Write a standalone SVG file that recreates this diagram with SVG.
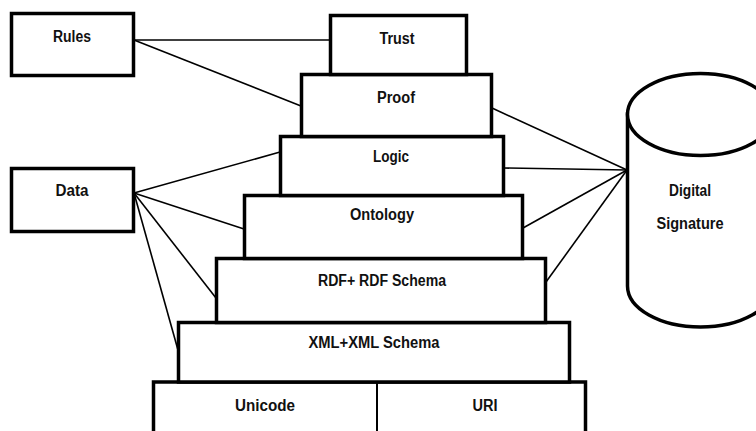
<svg xmlns="http://www.w3.org/2000/svg" width="756" height="431" viewBox="0 0 756 431">
  <style>
    .box { fill: #ffffff; stroke: #000000; stroke-width: 3.5; }
    .link { stroke: #000000; stroke-width: 1.6; fill: none; }
    .lbl { font-family: "Liberation Sans", Arial, sans-serif; font-weight: bold; font-size: 16px; fill: #111111; text-anchor: middle; }
  </style>
  <rect width="756" height="431" fill="#ffffff"/>

  <!-- connectors -->
  <g id="connectors">
    <line class="link" x1="134" y1="40" x2="330" y2="40"/>
    <line class="link" x1="134" y1="40" x2="301" y2="106"/>
    <line class="link" x1="134" y1="193" x2="280" y2="152"/>
    <line class="link" x1="134" y1="193" x2="244" y2="229"/>
    <line class="link" x1="134" y1="193" x2="216" y2="298"/>
    <line class="link" x1="134" y1="193" x2="178" y2="350"/>
    <line class="link" x1="627" y1="170" x2="492" y2="108"/>
    <line class="link" x1="627" y1="170" x2="504" y2="168"/>
    <line class="link" x1="627" y1="170" x2="523" y2="228"/>
    <line class="link" x1="627" y1="170" x2="546" y2="282"/>
  </g>

  <!-- side boxes -->
  <g id="rules">
    <rect class="box" x="11.5" y="13.5" width="122" height="62"/>
    <text class="lbl" x="72" y="42" textLength="38" lengthAdjust="spacingAndGlyphs">Rules</text>
  </g>
  <g id="data">
    <rect class="box" x="11.5" y="168.5" width="122" height="63"/>
    <text class="lbl" x="72" y="196" textLength="33" lengthAdjust="spacingAndGlyphs">Data</text>
  </g>

  <!-- layer stack, bottom to top -->
  <g id="unicode-uri">
    <rect class="box" x="153.5" y="382" width="432" height="70"/>
    <line class="box" x1="377" y1="382" x2="377" y2="440" style="stroke-width:2"/>
    <text class="lbl" x="265" y="411" textLength="60" lengthAdjust="spacingAndGlyphs">Unicode</text>
    <text class="lbl" x="485" y="411" textLength="25" lengthAdjust="spacingAndGlyphs">URI</text>
  </g>
  <g id="xml">
    <rect class="box" x="178.5" y="322.5" width="391" height="59.5"/>
    <text class="lbl" x="374" y="348" textLength="131" lengthAdjust="spacingAndGlyphs">XML+XML Schema</text>
  </g>
  <g id="rdf">
    <rect class="box" x="216.5" y="258.5" width="329" height="64"/>
    <text class="lbl" x="382" y="286" textLength="128" lengthAdjust="spacingAndGlyphs">RDF+ RDF Schema</text>
  </g>
  <g id="ontology">
    <rect class="box" x="244.5" y="195.5" width="278" height="63"/>
    <text class="lbl" x="382" y="220" textLength="64" lengthAdjust="spacingAndGlyphs">Ontology</text>
  </g>
  <g id="logic">
    <rect class="box" x="280.5" y="136.5" width="223" height="59"/>
    <text class="lbl" x="391" y="162" textLength="36" lengthAdjust="spacingAndGlyphs">Logic</text>
  </g>
  <g id="proof">
    <rect class="box" x="301.5" y="74.5" width="190" height="62"/>
    <text class="lbl" x="396" y="103" textLength="38" lengthAdjust="spacingAndGlyphs">Proof</text>
  </g>
  <g id="trust">
    <rect class="box" x="330.5" y="15.5" width="136" height="59"/>
    <text class="lbl" x="397" y="44" textLength="35" lengthAdjust="spacingAndGlyphs">Trust</text>
  </g>

  <!-- cylinder -->
  <g id="digital-signature">
    <path class="box" d="M627.5,114 L627.5,286 A73,41 0 0 0 773.5,286 L773.5,114 Z"/>
    <ellipse class="box" cx="700.5" cy="114.5" rx="73" ry="41"/>
    <text class="lbl" x="690" y="196" textLength="42" lengthAdjust="spacingAndGlyphs">Digital</text>
    <text class="lbl" x="690" y="229" textLength="67" lengthAdjust="spacingAndGlyphs">Signature</text>
  </g>
</svg>
